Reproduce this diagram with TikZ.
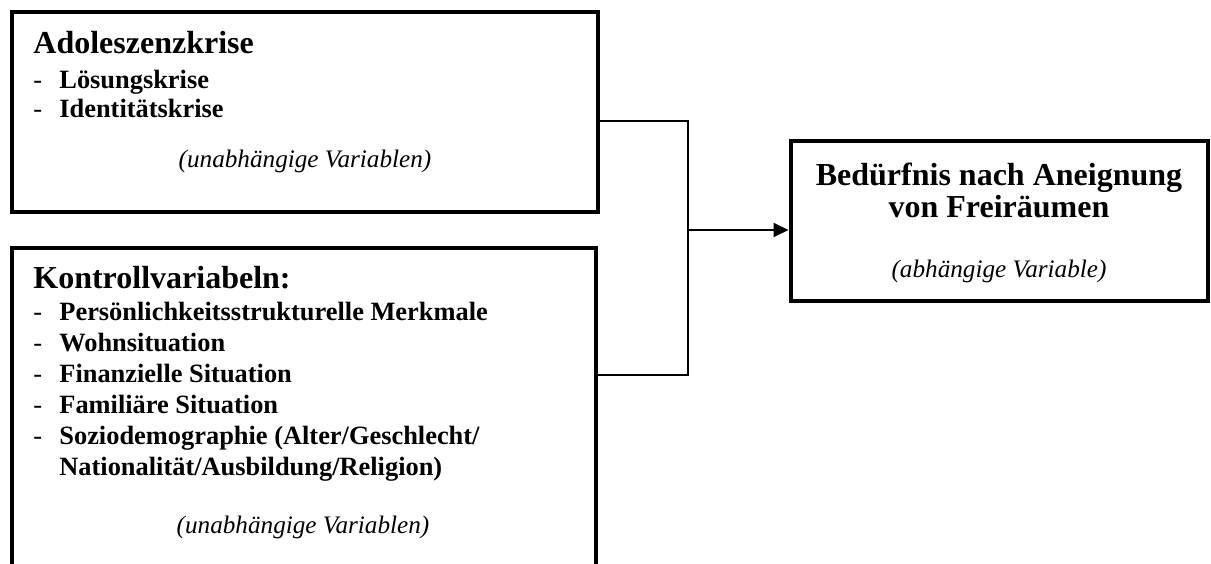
\documentclass[tikz,border=0pt]{standalone}
\usepackage{fontspec}
\setmainfont{Liberation Serif}
\usepackage{tikz}
\usetikzlibrary{positioning,arrows.meta}

\newcommand{\dashitem}{\makebox[13pt][l]{\mdseries -}}

\begin{document}
\begin{tikzpicture}[x=0.5pt, y=-0.5pt,
  panel/.style={draw, line width=2pt, inner sep=0pt},
  title/.style={inner sep=0pt, anchor=base west, font=\fontsize{16}{16}\selectfont\bfseries},
  note/.style={inner sep=0pt, anchor=base, font=\fontsize{12.6}{14}\selectfont\itshape},
  link/.style={line width=1pt}]
\useasboundingbox (0,0) rectangle (1211,563);

\node[panel, minimum width=293pt, minimum height=99.75pt] at (305,111.75) (adol) {};
\node[title] at (33,53) (adoltitle) {Adoleszenzkrise};
\node[inner sep=0pt, anchor=base west, align=left, font=\fontsize{13.2}{14.5}\selectfont\bfseries] at (33,117) (adollist) {\dashitem Lösungskrise\\
\dashitem Identitätskrise};
\node[note] at (305,167) (adolnote) {(unabhängige Variablen)};

\node[panel, minimum width=292pt, minimum height=159pt] at (303.5,407) (kontr) {};
\node[title] at (33,288) (kontrtitle) {Kontrollvariabeln:};
\node[inner sep=0pt, anchor=base west, align=left, font=\fontsize{13.2}{15.5}\selectfont\bfseries] at (33,475) (kontrlist) {\dashitem Persönlichkeitsstrukturelle Merkmale\\
\dashitem Wohnsituation\\
\dashitem Finanzielle Situation\\
\dashitem Familiäre Situation\\
\dashitem Soziodemographie (Alter/Geschlecht/\\
\hspace*{13pt}Nationalität/Ausbildung/Religion)};
\node[note] at (303,533) (kontrnote) {(unabhängige Variablen)};

\node[panel, minimum width=208.75pt, minimum height=80pt] at (999.25,220.5) (need) {};
\node[inner sep=0pt, anchor=base, align=center, font=\fontsize{16}{16}\selectfont\bfseries] at (999,217) (needtitle) {Bedürfnis nach Aneignung\\
von Freiräumen};
\node[note] at (999,277) (neednote) {(abhängige Variable)};

\coordinate (join) at (688,230);
\draw[link] ([yshift=-4.5pt]adol.east) -| (join);
\draw[link] ([yshift=16pt]kontr.east) -| (join);
\draw[link, -{Triangle[length=7.5pt, width=7pt]}] (join) -- (join -| need.west);
\end{tikzpicture}
\end{document}
